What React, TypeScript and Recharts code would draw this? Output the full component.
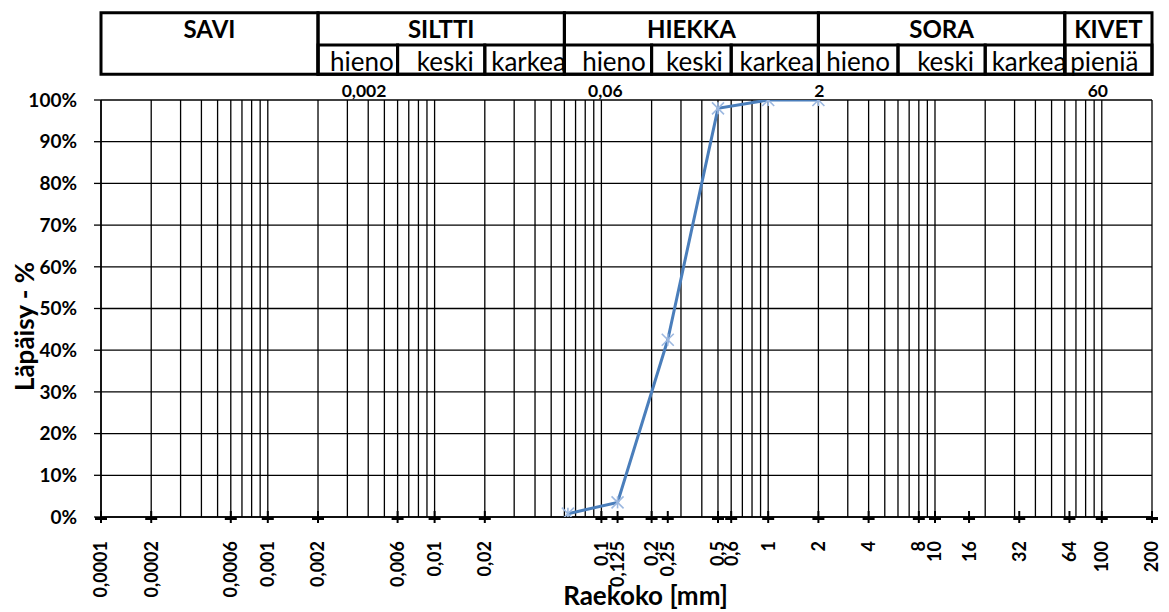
import React from 'react';
import {
  ComposedChart,
  Line,
  XAxis,
  YAxis,
  CartesianGrid,
  ReferenceLine,
  ReferenceArea,
  ReferenceDot,
} from 'recharts';

// Sieve analysis: grain size (mm) and cumulative passing (%)
const sieveSizes = [0.063, 0.125, 0.25, 0.5, 1, 2];
const passingPct = [0.8, 3.5, 42.5, 98, 100, 100];

// Labelled grain sizes along the bottom axis
const xTickValues = [
  0.0001, 0.0002, 0.0006, 0.001, 0.002, 0.006, 0.01, 0.02, 0.1, 0.125, 0.2, 0.25,
  0.5, 0.6, 1, 2, 4, 8, 10, 16, 32, 64, 100, 200,
];
const yTickValues = [0, 10, 20, 30, 40, 50, 60, 70, 80, 90, 100];

// Logarithmic grid (1..9 per decade) plus the closing line at 200 mm
const gridLinesMm = [
  0.0001, 0.0002, 0.0003, 0.0004, 0.0005, 0.0006, 0.0007, 0.0008, 0.0009,
  0.001, 0.002, 0.003, 0.004, 0.005, 0.006, 0.007, 0.008, 0.009,
  0.01, 0.02, 0.03, 0.04, 0.05, 0.06, 0.07, 0.08, 0.09,
  0.1, 0.2, 0.3, 0.4, 0.5, 0.6, 0.7, 0.8, 0.9,
  1, 2, 3, 4, 5, 6, 7, 8, 9,
  10, 20, 30, 40, 50, 60, 70, 80, 90,
  100, 200,
];

// Soil fraction classification table
const fractionNames = ['SAVI', 'SILTTI', 'HIEKKA', 'SORA', 'KIVET'];
const fractionFrom = [0.0001, 0.002, 0.06, 2, 60];
const fractionTo = [0.002, 0.06, 2, 60, 200];

const subFractionNames = ['hieno', 'keski', 'karkea', 'hieno', 'keski', 'karkea', 'hieno', 'keski', 'karkea', 'pieniä'];
const subFractionFrom = [0.002, 0.006, 0.02, 0.06, 0.2, 0.6, 2, 6, 20, 60];
const subFractionTo = [0.006, 0.02, 0.06, 0.2, 0.6, 2, 6, 20, 60, 200];

// Fraction boundaries marked above the plot
const boundaryValues = [0.002, 0.06, 2, 60];
const boundaryLabels = ['0,002', '0,06', '2', '60'];

const FONT = 'Lato, sans-serif';
const LINE_BLUE = '#4a7ebb';
const MARK_BLUE = '#9cb8e0';

// table rows expressed on the percentage axis (above 100 %)
const TABLE_TOP = 120.9;
const TABLE_MID = 113.2;
const TABLE_BOTTOM = 106.2;

// horizontal nudges for the boundary captions
const boundaryShift = [46, 41, 1, 33];
// horizontal nudges for the sub-fraction words
const subShift = [4, 4, 4, 6, 3, 2, 0, 4, 4, -4];

const data = sieveSizes.map((s, i) => ({ size: s, pass: passingPct[i] }));

const fmt = (v: number) => String(v).replace('.', ',');

const XTick = (props: any) => {
  const { x, y, payload } = props;
  const ty = y + 24;
  return (
    <g>
      <line x1={x} x2={x} y1={y - 6} y2={y + 6} stroke="#000" strokeWidth={2} />
      <line x1={x - 6} x2={x + 6} y1={y + 1.5} y2={y + 1.5} stroke="#000" strokeWidth={3} />
      <text
        x={x}
        y={ty}
        transform={`rotate(-90 ${x} ${ty})`}
        textAnchor="end"
        dy="0.36em"
        fontFamily={FONT}
        fontWeight={700}
        fontSize={18}
        fill="#000"
      >
        {fmt(payload.value)}
      </text>
    </g>
  );
};

const StarDot = (props: any) => {
  const { cx, cy, index } = props;
  if (cx == null || cy == null) return <g key={`s-${index}`} />;
  const r = 6;
  return (
    <g key={`s-${index}`} stroke={MARK_BLUE} strokeWidth={1.6}>
      <line x1={cx - r} y1={cy - r} x2={cx + r} y2={cy + r} />
      <line x1={cx - r} y1={cy + r} x2={cx + r} y2={cy - r} />
      <line x1={cx} y1={cy - r} x2={cx} y2={cy + r} />
    </g>
  );
};

const centeredText = (text: string, bold: boolean, size: number, dx = 0, dy = 0) => (p: any) => {
  const vb = p.viewBox;
  if (!vb) return null;
  return (
    <text
      x={vb.x + vb.width / 2 + dx}
      y={vb.y + vb.height / 2 + dy}
      textAnchor="middle"
      dominantBaseline="central"
      fontFamily={FONT}
      fontWeight={bold ? 700 : 400}
      fontSize={size}
      fill="#000"
    >
      {text}
    </text>
  );
};

const boundaryCaption = (text: string, dx: number) => (p: any) => {
  const vb = p.viewBox;
  if (!vb) return null;
  return (
    <text
      x={vb.x + vb.width / 2 + dx}
      y={vb.y + vb.height / 2 - 3}
      textAnchor="middle"
      fontFamily={FONT}
      fontWeight={700}
      fontSize={17.5}
      fill="#000"
    >
      {text}
    </text>
  );
};

const YTitle = (p: any) => {
  const vb = p.viewBox;
  if (!vb) return null;
  const x = vb.x + 24;
  const y = vb.y + vb.height / 2 + 18;
  return (
    <text
      x={x}
      y={y}
      transform={`rotate(-90 ${x} ${y})`}
      textAnchor="middle"
      dominantBaseline="central"
      fontFamily={FONT}
      fontWeight={700}
      fontSize={26}
      fill="#000"
    >
      Läpäisy - %
    </text>
  );
};

const XTitle = (p: any) => {
  const vb = p.viewBox;
  if (!vb) return null;
  return (
    <text
      x={vb.x + vb.width / 2 + 19}
      y={vb.y + 88}
      textAnchor="middle"
      fontFamily={FONT}
      fontWeight={700}
      fontSize={26}
      fill="#000"
    >
      Raekoko [mm]
    </text>
  );
};

export default function App() {
  return (
    <div
      style={{
        position: 'absolute',
        left: 0,
        top: 0,
        width: 1169,
        height: 612,
        background: '#fff',
        fontFamily: FONT,
      }}
    >
      <ComposedChart
        width={1169}
        height={612}
        data={data}
        margin={{ top: 100, right: 17, bottom: 0, left: 0 }}
      >
        <CartesianGrid vertical={false} stroke="#000" strokeWidth={1.3} />
        {gridLinesMm.map((v) => (
          <ReferenceLine key={`g-${v}`} x={v} stroke="#000" strokeWidth={1.3} ifOverflow="visible" />
        ))}

        {/* classification table */}
        {fractionNames.map((name, i) => (
          <ReferenceArea
            key={`f-${name}`}
            x1={fractionFrom[i]}
            x2={fractionTo[i]}
            y1={TABLE_BOTTOM}
            y2={TABLE_TOP}
            ifOverflow="visible"
            fill="none"
            stroke="#000"
            strokeWidth={3}
          />
        ))}
        {fractionNames.map((name, i) => (
          <ReferenceArea
            key={`ft-${name}`}
            x1={fractionFrom[i]}
            x2={fractionTo[i]}
            y1={TABLE_MID}
            y2={TABLE_TOP}
            ifOverflow="visible"
            fill="none"
            stroke="none"
            label={centeredText(name, true, 24)}
          />
        ))}
        {subFractionNames.map((name, i) => (
          <ReferenceArea
            key={`sf-${i}`}
            x1={subFractionFrom[i]}
            x2={subFractionTo[i]}
            y1={TABLE_BOTTOM}
            y2={TABLE_MID}
            ifOverflow="visible"
            fill="none"
            stroke="#000"
            strokeWidth={3}
            label={centeredText(name, false, 26, subShift[i], 1)}
          />
        ))}

        {boundaryValues.map((v, i) => (
          <ReferenceDot
            key={`b-${v}`}
            x={v}
            y={100}
            r={1}
            fill="none"
            stroke="none"
            ifOverflow="visible"
            label={boundaryCaption(boundaryLabels[i], boundaryShift[i])}
          />
        ))}

        <XAxis
          dataKey="size"
          type="number"
          scale="log"
          domain={[0.0001, 200]}
          allowDataOverflow
          ticks={xTickValues}
          interval={0}
          height={95}
          tickSize={0}
          tickMargin={0}
          tickLine={false}
          axisLine={{ stroke: '#000', strokeWidth: 1.3 }}
          tick={<XTick />}
          label={XTitle}
        />
        <YAxis
          type="number"
          domain={[0, 100]}
          allowDataOverflow
          ticks={yTickValues}
          interval={0}
          width={101}
          tickSize={7}
          tickMargin={17}
          tickLine={{ stroke: '#000', strokeWidth: 1.3 }}
          axisLine={{ stroke: '#000', strokeWidth: 1.5 }}
          tickFormatter={(v: number) => `${v}%`}
          tick={{ fill: '#000', fontFamily: FONT, fontWeight: 700, fontSize: 19 }}
          label={YTitle}
        />

        <Line
          type="linear"
          dataKey="pass"
          stroke={LINE_BLUE}
          strokeWidth={3}
          dot={StarDot}
          activeDot={false}
          isAnimationActive={false}
        />
      </ComposedChart>
    </div>
  );
}
